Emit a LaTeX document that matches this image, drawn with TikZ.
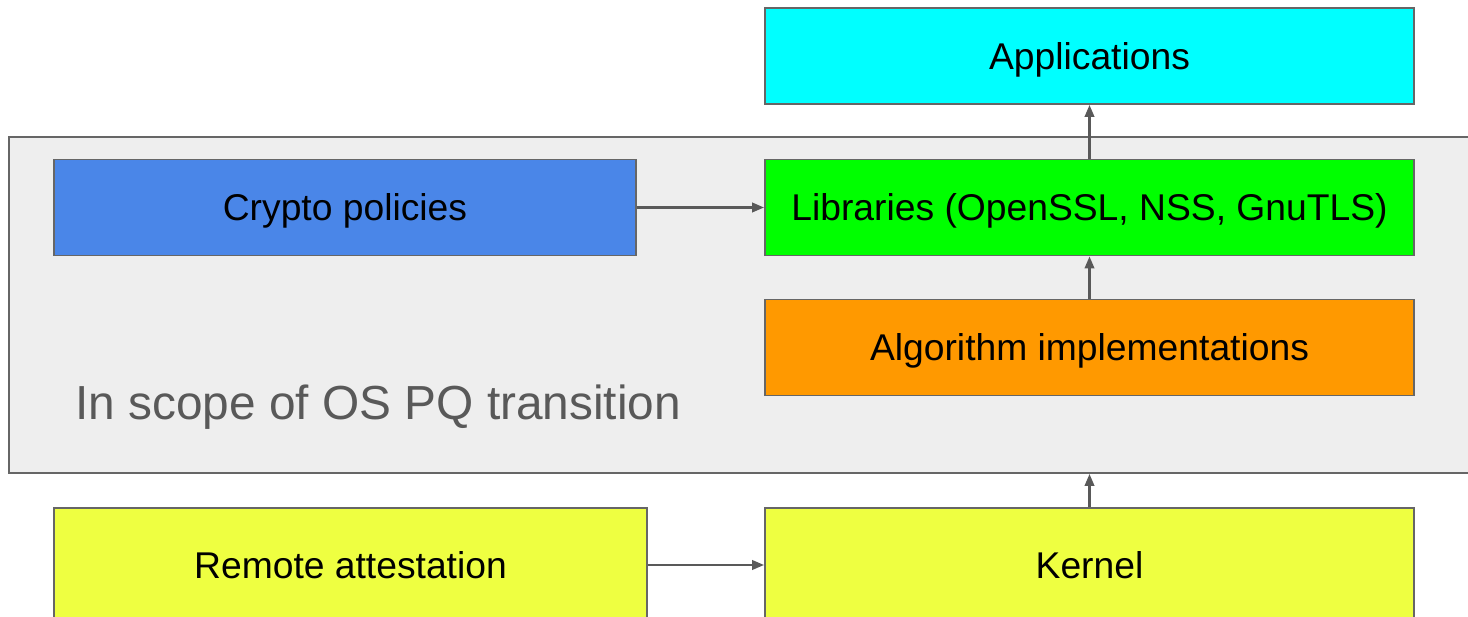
\documentclass[tikz,border=0pt]{standalone}
\usepackage{fontspec}
\setmainfont{Liberation Sans}
\usepackage{tikz}
\usetikzlibrary{arrows.meta}

\definecolor{boxline}{HTML}{666666}
\definecolor{arrowgray}{HTML}{595959}
\definecolor{scopefill}{HTML}{EEEEEE}
\definecolor{appcyan}{HTML}{00FFFF}
\definecolor{libgreen}{HTML}{00FF00}
\definecolor{algorange}{HTML}{FF9900}
\definecolor{policyblue}{HTML}{4A86E8}
\definecolor{kernelyellow}{HTML}{EEFF41}

\tikzset{
  box/.style={draw=boxline, line width=1.4pt, rectangle, inner sep=0pt,
    text height=19pt, text depth=0pt,
    font=\fontsize{26.5}{30}\selectfont},
  link/.style={draw=arrowgray, line width=1.5pt,
    -{Triangle[length=0.3cm, width=0.24cm]}}
}

\begin{document}
\begin{tikzpicture}
    \useasboundingbox (0,0) rectangle (36.7,15.425);

    % scope of the transition
    \node[box, fill=scopefill, minimum width=37.1cm, minimum height=8.4cm] (scope) at (18.775,7.8) {};
    \node[anchor=base west, inner sep=0pt, text=arrowgray, font=\fontsize{34}{40}\selectfont] (scopelabel) at (1.875,4.925) {In scope of OS PQ transition};

    \node[box, fill=appcyan, minimum width=16.225cm, minimum height=2.4cm] (apps) at (27.2375,14.025) {Applications};
    \node[box, fill=libgreen, minimum width=16.225cm, minimum height=2.4cm] (libs) at (27.2375,10.2375) {Libraries (OpenSSL, NSS, GnuTLS)};
    \node[box, fill=algorange, minimum width=16.225cm, minimum height=2.4cm] (algs) at (27.2375,6.7375) {Algorithm implementations};
    \node[box, fill=policyblue, minimum width=14.55cm, minimum height=2.4cm] (policies) at (8.625,10.2375) {Crypto policies};

    % below the scope
    \node[box, fill=kernelyellow, minimum width=16.225cm, minimum height=2.85cm] (kernel) at (27.2375,1.3) {Kernel};
    \node[box, fill=kernelyellow, minimum width=14.825cm, minimum height=2.85cm] (attest) at (8.7625,1.3) {Remote attestation};

    \draw[link] (libs) -- (apps);
    \draw[link] (algs) -- (libs);
    \draw[link] (policies) -- (libs);
    \draw[link] (kernel.north) -- (kernel.north |- scope.south);
    \draw[link] (attest) -- (kernel);
\end{tikzpicture}
\end{document}
